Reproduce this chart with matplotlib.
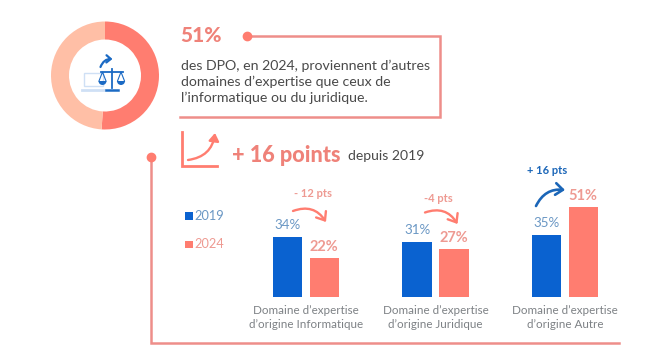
import matplotlib
matplotlib.use("Agg")
import matplotlib.pyplot as plt
from matplotlib.patches import FancyArrowPatch, Rectangle, Wedge

plt.rcParams['font.family'] = ['Lato', 'DejaVu Sans']

W, H = 664, 358
categories = ["Domaine d\u2019expertise\nd\u2019origine Informatique",
              "Domaine d\u2019expertise\nd\u2019origine Juridique",
              "Domaine d\u2019expertise\nd\u2019origine Autre"]
values_2019 = [34, 31, 35]
values_2024 = [22, 27, 51]
series_names = ["2019", "2024"]
deltas = ["- 12 pts", "-4 pts", "+ 16 pts"]
donut_values = [51, 49]

BLUE = "#0A62D0"
RED = "#FF7D70"
LIGHT = "#FFBFA6"
LINE = "#EE8E8A"
REDTXT = "#EF8279"
REDSOFT = "#EE9A92"
BLUETXT = "#6A97C4"
GREY = "#7D8185"
DARK = "#4A4A4A"
DKBLUE = "#1B66B8"

fig = plt.figure(figsize=(W / 100, H / 100), dpi=100, facecolor="white")

def px_axes(x0, y0, x1, y1, **kw):
    return fig.add_axes([x0 / W, 1 - y1 / H, (x1 - x0) / W, (y1 - y0) / H], **kw)

# Overlay in pixel coordinates for the decoration
ov = fig.add_axes([0, 0, 1, 1], zorder=1)
ov.set_xlim(0, W); ov.set_ylim(H, 0); ov.axis("off"); ov.patch.set_alpha(0)

# Donut
dn = px_axes(51, 21.5, 159, 129.5, zorder=2)
dn.pie(donut_values, colors=[RED, LIGHT], startangle=90, counterclock=False,
       radius=1.0, wedgeprops=dict(width=1 / 3))
dn.set_xlim(-1, 1); dn.set_ylim(-1, 1)

# Bars
K = 1.77
base = 296.8
spacing = 129.5
cx0 = 306
bx = px_axes(cx0 - 50, base - 100, cx0 + 2 * spacing + 50, base, zorder=2)
bx.patch.set_alpha(0)
bx.set_xlim(-50 / spacing, 2 + 50 / spacing)
bx.set_ylim(0, 100 / K)
bx.axis("off")
pos = list(range(len(categories)))
off = 18.3 / spacing
bw = 29.5 / spacing
bx.bar([p - off for p in pos], values_2019, bw, color=BLUE)
bx.bar([p + off for p in pos], values_2024, bw, color=RED)
for p, v in zip(pos, values_2019):
    bx.annotate(f"{v}%", (p - off, v), xytext=(0, 6), textcoords="offset pixels",
                ha="center", va="bottom", fontsize=9.6, color=BLUETXT, annotation_clip=False)
for p, v in zip(pos, values_2024):
    bx.annotate(f"{v}%", (p + off, v), xytext=(0, 4), textcoords="offset pixels",
                ha="center", va="bottom", fontsize=10.5, color=REDSOFT, fontweight="bold",
                annotation_clip=False)
for p, c in zip(pos, categories):
    bx.annotate(c, (p, 0), xytext=(0, -8), textcoords="offset pixels", ha="center", va="top",
                fontsize=8.4, color=GREY, linespacing=1.3, annotation_clip=False)

# Frame lines
ov.plot([247, 440, 440, 180], [36, 36, 117, 117], color=LINE, lw=1.8, solid_joinstyle="miter")
ov.plot([247], [36], "o", color=RED, ms=6)
ov.plot([151, 151, 619], [157, 343, 343], color=LINE, lw=1.8, solid_joinstyle="miter")
ov.plot([151], [157], "o", color=RED, ms=6)

# Headline texts
ov.text(180.5, 35.5, "51%", fontsize=15, fontweight="black", color=REDTXT, ha="left", va="center")
for y, s in zip([66, 82, 98], ["des DPO, en 2024, proviennent d\u2019autres",
                               "domaines d\u2019expertise que ceux de",
                               "l\u2019informatique ou du juridique."]):
    ov.text(181, y, s, fontsize=10.15, color=DARK, ha="left", va="center")
ov.text(232, 155, "+ 16 points", fontsize=15.6, fontweight="black", color=REDTXT, ha="left", va="center")
ov.text(348, 155.5, "depuis 2019", fontsize=10.1, color=DARK, ha="left", va="center")

# Growth icon
ov.plot([182, 182, 216.5], [132, 165.5, 165.5], color=RED, lw=2, solid_joinstyle="miter")
ov.add_patch(FancyArrowPatch((188, 160), (215, 133), connectionstyle="arc3,rad=0.38",
                             arrowstyle="-|>,head_length=3,head_width=2", color=RED, lw=1.7,
                             mutation_scale=1.5, shrinkA=0, shrinkB=0))

# Legend
for y, c, tc, name in zip([216, 244.5], [BLUE, RED], [BLUETXT, REDSOFT], series_names):
    ov.add_patch(Rectangle((185, y - 3.7), 7.5, 7.5, color=c, lw=0))
    ov.text(194.5, y, name, fontsize=9.2, color=tc, ha="left", va="center")

# Delta labels and arrows
ov.text(313.5, 193.5, deltas[0], fontsize=8, fontweight="bold", color=REDSOFT, ha="center", va="center")
ov.text(438, 198, deltas[1], fontsize=8, fontweight="bold", color=REDSOFT, ha="center", va="center")
ov.text(547, 171, deltas[2], fontsize=8, fontweight="bold", color=DKBLUE, ha="center", va="center")
arrow = "->,head_length=3.5,head_width=2.8"
ov.add_patch(FancyArrowPatch((293, 211), (326, 222), connectionstyle="arc3,rad=-0.4", arrowstyle=arrow,
                             color=RED, lw=1.7, mutation_scale=1.5, shrinkA=0, shrinkB=0))
ov.add_patch(FancyArrowPatch((425, 212.5), (457.5, 224), connectionstyle="arc3,rad=-0.4", arrowstyle=arrow,
                             color=RED, lw=1.7, mutation_scale=1.5, shrinkA=0, shrinkB=0))
ov.add_patch(FancyArrowPatch((536, 206), (565, 190), connectionstyle="arc3,rad=-0.35", arrowstyle=arrow,
                             color=DKBLUE, lw=1.9, mutation_scale=1.5, shrinkA=0, shrinkB=0))

# Central icon (on top of the donut hole)
ic = fig.add_axes([0, 0, 1, 1], zorder=3)
ic.set_xlim(0, W); ic.set_ylim(H, 0); ic.axis("off"); ic.patch.set_alpha(0)
PALE = "#CFE0F5"
ic.add_patch(Rectangle((84, 73), 19, 13, fill=False, ec=PALE, lw=1))
ic.plot([82, 104], [90, 90], color=PALE, lw=2)
ICON = "#1B6AC4"
ic.plot([112, 112], [69, 88], color=ICON, lw=1.3)
ic.plot([101, 123], [71.5, 71.5], color=ICON, lw=1.3)
ic.plot([106, 118], [90, 90], color=ICON, lw=1.8)
for cx in (102.5, 121):
    ic.plot([cx - 3.5, cx, cx + 3.5], [81, 72, 81], color=ICON, lw=0.8)
    ic.add_patch(Wedge((cx, 81), 4, 0, 180, color=ICON, lw=0))
ic.add_patch(FancyArrowPatch((100.5, 67), (112.5, 59), connectionstyle="arc3,rad=-0.35",
                             arrowstyle="->,head_length=2.4,head_width=2", color=ICON, lw=1.6,
                             mutation_scale=1.3, shrinkA=0, shrinkB=0))

fig.savefig("out.png", dpi=100, facecolor="white")
